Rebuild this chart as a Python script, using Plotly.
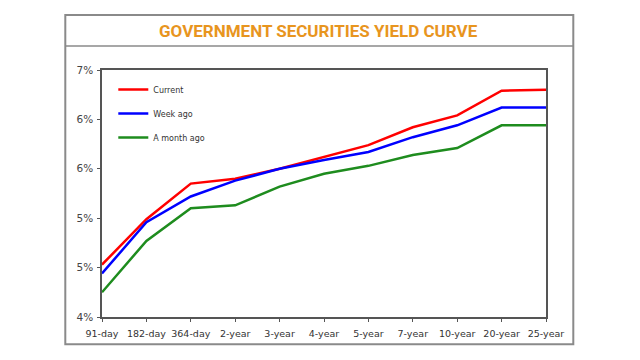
import plotly.graph_objects as go

categories = ["91-day", "182-day", "364-day", "2-year", "3-year", "4-year",
              "5-year", "7-year", "10-year", "20-year", "25-year"]
current = [4.53, 4.99, 5.35, 5.40, 5.50, 5.62, 5.74, 5.92, 6.04, 6.29, 6.30]
week_ago = [4.44, 4.96, 5.22, 5.38, 5.50, 5.59, 5.67, 5.82, 5.94, 6.12, 6.12]
month_ago = [4.25, 4.77, 5.10, 5.13, 5.32, 5.45, 5.53, 5.64, 5.71, 5.94, 5.94]
y_tickvals = [4.0, 4.5, 5.0, 5.5, 6.0, 6.5]
y_ticktext = ["4%", "5%", "5%", "6%", "6%", "7%"]
title_text = "GOVERNMENT SECURITIES YIELD CURVE"

W, H = 640, 360
L, R, T, B = 101.7, 545.7, 70.0, 316.7
pw, ph = R - L, B - T


def px(x):
    return (x - L) / pw


def py(y):
    return (B - y) / ph


x_idx = list(range(len(categories)))
fig = go.Figure()
for name, vals, color in [("Current", current, "#FF0000"),
                          ("Week ago", week_ago, "#0000FF"),
                          ("A month ago", month_ago, "#1E8C1E")]:
    fig.add_trace(go.Scatter(x=x_idx, y=vals, mode="lines", name=name,
                             line=dict(color=color, width=2.5),
                             legendgroup=name))

fig.update_layout(
    width=W, height=H,
    margin=dict(l=L, r=W - R, t=T, b=H - B),
    paper_bgcolor="white", plot_bgcolor="white",
    font=dict(family="DejaVu Sans", color="#333333"),
    showlegend=True,
    legend=dict(x=px(113), y=py(75), xanchor="left", yanchor="top",
                bgcolor="rgba(0,0,0,0)", font=dict(size=8, color="#333333"),
                tracegroupgap=5, itemwidth=30),
    xaxis=dict(range=[0, len(categories) - 1], tickmode="array",
               tickvals=x_idx, ticktext=categories, showgrid=False,
               zeroline=False, showline=True, linecolor="#555555",
               linewidth=1.5, mirror=True, ticks="outside", ticklen=3,
               tickcolor="#555555", ticklabelstandoff=4,
               tickfont=dict(size=9.5, color="#333333")),
    yaxis=dict(range=[4.0, 6.5], tickmode="array", tickvals=y_tickvals,
               ticktext=y_ticktext, showgrid=False, zeroline=False,
               showline=True, linecolor="#555555", linewidth=1.5, mirror=True,
               ticks="outside", ticklen=3, tickcolor="#555555",
               ticklabelstandoff=2,
               tickfont=dict(size=10.5, color="#444444")),
)

# outer frame and title separator
fig.add_shape(type="rect", xref="paper", yref="paper",
              x0=px(65), x1=px(573), y0=py(344), y1=py(15),
              line=dict(color="#8a8a8a", width=2), layer="below")
fig.add_shape(type="line", xref="paper", yref="paper",
              x0=px(65), x1=px(573), y0=py(46), y1=py(46),
              line=dict(color="#8a8a8a", width=1.5))
fig.add_annotation(text="<b>" + title_text + "</b>", xref="paper", yref="paper",
                   x=px(318), y=py(31), xanchor="center", yanchor="middle",
                   showarrow=False,
                   font=dict(family="Roboto", size=17, color="#E8951E"))

fig.write_html("out.html", config={"displayModeBar": False},
               post_script="document.body.style.margin='0';document.body.style.padding='0';")
